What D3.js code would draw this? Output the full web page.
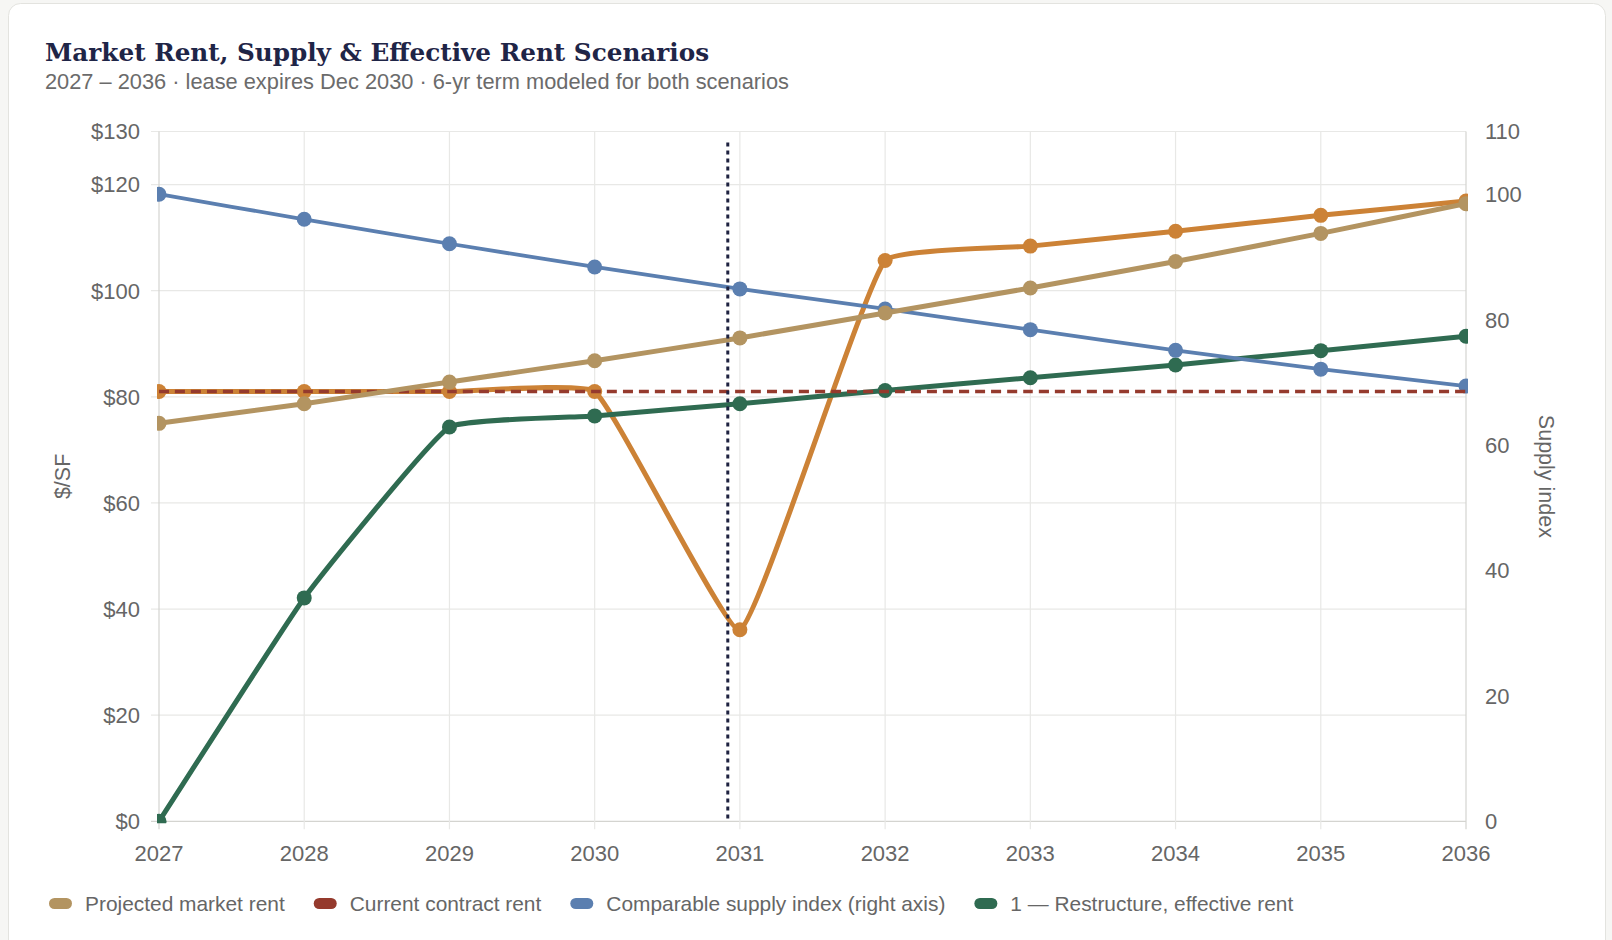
<!DOCTYPE html>
<html>
<head>
<meta charset="utf-8">
<script src="https://cdn.jsdelivr.net/npm/d3@7"></script>
<style>
  html, body { margin: 0; padding: 0; background: #f6f6f4; }
  svg { display: block; }
</style>
</head>
<body>
<div id="chart"></div>
<script>
// chart data
var years = [2027, 2028, 2029, 2030, 2031, 2032, 2033, 2034, 2035, 2036];
var marketRent   = [75.0, 78.7, 82.8, 86.8, 91.1, 95.8, 100.5, 105.5, 110.8, 116.4];
var contractRent = [81, 81, 81, 81, 81, 81, 81, 81, 81, 81];
var supplyIndex  = [100.0, 96.0, 92.1, 88.4, 84.9, 81.7, 78.4, 75.1, 72.1, 69.4];
var restructure  = [0, 42.1, 74.3, 76.4, 78.7, 81.2, 83.6, 86.0, 88.7, 91.4];
var relocate     = [81, 81, 81, 81, 36.1, 105.7, 108.4, 111.2, 114.2, 116.9];
var leftTicks  = [0, 20, 40, 60, 80, 100, 120, 130];
var rightTicks = [0, 20, 40, 60, 80, 100, 110];
var leaseExpiry = 2030 + 11 / 12;

var legendItems = [
  {label: "Projected market rent", color: "#b39461"},
  {label: "Current contract rent", color: "#953a2d"},
  {label: "Comparable supply index (right axis)", color: "#5b7fb0"},
  {label: "1 \u2014 Restructure, effective rent", color: "#2f6b51"}
];

var W = 1612, H = 940;
var plot = {left: 159, right: 1466, top: 131.5, bottom: 821.3};
var sans = "'Liberation Sans', Arial, sans-serif";

var svg = d3.select("#chart").append("svg")
  .attr("width", W).attr("height", H);

// card
svg.append("rect")
  .attr("x", 8.5).attr("y", 3.5)
  .attr("width", 1597).attr("height", 960)
  .attr("rx", 12)
  .attr("fill", "#ffffff")
  .attr("stroke", "#e3e3df");

svg.append("text")
  .attr("x", 45).attr("y", 61)
  .text("Market Rent, Supply & Effective Rent Scenarios")
  .attr("font-family", "'DejaVu Serif', Georgia, serif")
  .attr("font-weight", "bold")
  .attr("font-size", "24.7px")
  .attr("fill", "#1f2547");

svg.append("text")
  .attr("x", 45).attr("y", 89)
  .text("2027 \u2013 2036 \u00b7 lease expires Dec 2030 \u00b7 6-yr term modeled for both scenarios")
  .attr("font-family", sans)
  .attr("font-size", "21.8px")
  .attr("fill", "#6b6b6b");

// scales
var x = d3.scaleLinear().domain([2027, 2036]).range([plot.left, plot.right]);
var yL = d3.scaleLinear().domain([0, 130]).range([plot.bottom, plot.top]);
var yR = d3.scaleLinear().domain([0, 110]).range([plot.bottom, plot.top]);

// grid
var grid = svg.append("g");
grid.selectAll("line.h")
  .data(leftTicks)
  .enter().append("line")
  .attr("x1", plot.left - 8).attr("x2", plot.right)
  .attr("y1", function(d){ return yL(d); })
  .attr("y2", function(d){ return yL(d); })
  .attr("stroke", function(d){ return d == 0 ? "#d4d4d0" : "#e8e8e6"; })
  .attr("stroke-width", 1.2);

grid.selectAll("line.v")
  .data(years)
  .enter().append("line")
  .attr("x1", function(d){ return x(d); })
  .attr("x2", function(d){ return x(d); })
  .attr("y1", plot.top).attr("y2", plot.bottom + 8)
  .attr("stroke", function(d, i){ return (i == 0 || i == years.length - 1) ? "#d4d4d0" : "#e8e8e6"; })
  .attr("stroke-width", 1.2);

// tick labels
svg.selectAll("text.yl")
  .data(leftTicks)
  .enter().append("text")
  .attr("x", 140)
  .attr("y", function(d){ return yL(d); })
  .attr("dy", "0.36em")
  .attr("text-anchor", "end")
  .text(function(d){ return "$" + d; })
  .attr("font-family", sans).attr("font-size", "22px").attr("fill", "#666");

svg.selectAll("text.yr")
  .data(rightTicks)
  .enter().append("text")
  .attr("x", 1485)
  .attr("y", function(d){ return yR(d); })
  .attr("dy", "0.36em")
  .text(function(d){ return d; })
  .attr("font-family", sans).attr("font-size", "22px").attr("fill", "#666");

svg.selectAll("text.xl")
  .data(years)
  .enter().append("text")
  .attr("x", function(d){ return x(d); })
  .attr("y", 861)
  .attr("text-anchor", "middle")
  .text(function(d){ return d; })
  .attr("font-family", sans).attr("font-size", "22px").attr("fill", "#666");

svg.append("text")
  .attr("transform", "translate(70," + ((plot.top + plot.bottom) / 2) + ") rotate(-90)")
  .attr("text-anchor", "middle")
  .text("$/SF")
  .attr("font-family", sans).attr("font-size", "21.5px").attr("fill", "#666");

svg.append("text")
  .attr("transform", "translate(1539," + ((plot.top + plot.bottom) / 2) + ") rotate(90)")
  .attr("text-anchor", "middle")
  .text("Supply index")
  .attr("font-family", sans).attr("font-size", "21.5px").attr("fill", "#666");

// clip to plot area
svg.append("clipPath").attr("id", "clip")
  .append("rect")
  .attr("x", plot.left - 2).attr("y", plot.top - 2)
  .attr("width", plot.right - plot.left + 4)
  .attr("height", plot.bottom - plot.top + 4);

var layer = svg.append("g").attr("clip-path", "url(#clip)");

// spline with tension, control points like Chart.js
function splinePath(pts, t){
  var cps = pts.map(function(pt, i){
    var prev = pts[i - 1] || pt, next = pts[i + 1] || pt;
    var d01 = Math.hypot(pt[0] - prev[0], pt[1] - prev[1]);
    var d12 = Math.hypot(next[0] - pt[0], next[1] - pt[1]);
    var s01 = d01 / (d01 + d12) || 0, s12 = d12 / (d01 + d12) || 0;
    var fa = t * s01, fb = t * s12;
    var dx = next[0] - prev[0], dy = next[1] - prev[1];
    function cap(p){
      return [Math.max(plot.left, Math.min(plot.right, p[0])), Math.max(plot.top, Math.min(plot.bottom, p[1]))];
    }
    return {prev: cap([pt[0] - fa * dx, pt[1] - fa * dy]), next: cap([pt[0] + fb * dx, pt[1] + fb * dy])};
  });
  var p = d3.path();
  p.moveTo(pts[0][0], pts[0][1]);
  for (var i = 1; i < pts.length; i++) {
    p.bezierCurveTo(cps[i - 1].next[0], cps[i - 1].next[1], cps[i].prev[0], cps[i].prev[1], pts[i][0], pts[i][1]);
  }
  return p.toString();
}

// drawn bottom to top
var series = [
  {values: relocate, scale: yL, color: "#cc8236", width: 5, dash: null, r: 7.5},
  {values: restructure, scale: yL, color: "#2f6b51", width: 5, dash: null, r: 7.5},
  {values: supplyIndex, scale: yR, color: "#5b7fb0", width: 3.8, dash: null, r: 7.5},
  {values: contractRent, scale: yL, color: "#953a2d", width: 3.5, dash: "10,6", r: 0},
  {values: marketRent, scale: yL, color: "#b39461", width: 5, dash: null, r: 7.5}
];

series.forEach(function(s){
  var pts = years.map(function(yr, i){ return [x(yr), s.scale(s.values[i])]; });
  layer.append("path")
    .attr("d", splinePath(pts, 0.11))
    .attr("fill", "none")
    .attr("stroke", s.color)
    .attr("stroke-width", s.width)
    .attr("stroke-dasharray", s.dash)
    .attr("stroke-linejoin", "round");
  if (s.r > 0) {
    layer.selectAll(null)
      .data(pts)
      .enter().append("circle")
      .attr("cx", function(d){ return d[0]; })
      .attr("cy", function(d){ return d[1]; })
      .attr("r", s.r)
      .attr("fill", s.color);
  }
});

// lease expiry marker
layer.append("line")
  .attr("x1", x(leaseExpiry)).attr("x2", x(leaseExpiry))
  .attr("y1", plot.top + 11).attr("y2", plot.bottom)
  .attr("stroke", "#1e2240")
  .attr("stroke-width", 3)
  .attr("stroke-dasharray", "4,4");

// legend
var lx = 49;
legendItems.forEach(function(item){
  svg.append("rect")
    .attr("x", lx).attr("y", 898)
    .attr("width", 23).attr("height", 11)
    .attr("rx", 5.5)
    .attr("fill", item.color);
  var t = svg.append("text")
    .attr("x", lx + 36).attr("y", 910.5)
    .text(item.label)
    .attr("font-family", sans).attr("font-size", "20.9px").attr("fill", "#666");
  lx += 36 + t.node().getComputedTextLength() + 29;
});
</script>
</body>
</html>
